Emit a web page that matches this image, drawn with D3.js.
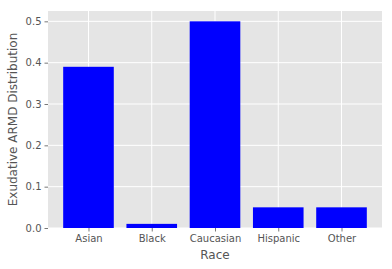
<!DOCTYPE html>
<html>
<head>
<meta charset="utf-8">
<script src="https://cdnjs.cloudflare.com/ajax/libs/d3/7.8.5/d3.min.js"></script>
<style>
  body { margin: 0; background: #fff; }
  text { font-family: "DejaVu Sans", sans-serif; }
</style>
</head>
<body>
<div id="chart"></div>
<script>
// data
const races = ["Asian", "Black", "Caucasian", "Hispanic", "Other"];
const armdShare = [0.39, 0.01, 0.50, 0.05, 0.05];
const yTicks = [0.0, 0.1, 0.2, 0.3, 0.4, 0.5];

const W = 392, H = 269;
const plotLeft = 48, plotRight = 382, plotTop = 11, plotBottom = 228;

const svg = d3.select("#chart").append("svg")
    .attr("width", W)
    .attr("height", H);

// matplotlib style linear x with 5% margin around the bars
const x = d3.scaleLinear().domain([-0.64, 4.64]).range([plotLeft, plotRight]);
const y = d3.scaleLinear().domain([0, 0.525]).range([plotBottom, plotTop]);

svg.append("rect")
    .attr("x", plotLeft).attr("y", plotTop)
    .attr("width", plotRight - plotLeft).attr("height", plotBottom - plotTop)
    .attr("fill", "#e5e5e5");

// grid
svg.selectAll("line.gy").data(yTicks).enter().append("line")
    .attr("x1", plotLeft).attr("x2", plotRight)
    .attr("y1", d => y(d)).attr("y2", d => y(d))
    .attr("stroke", "#fff").attr("stroke-width", 1);
svg.selectAll("line.gx").data(races).enter().append("line")
    .attr("x1", (d, i) => x(i)).attr("x2", (d, i) => x(i))
    .attr("y1", plotTop).attr("y2", plotBottom)
    .attr("stroke", "#fff").attr("stroke-width", 1);

// bars
svg.selectAll("rect.bar").data(armdShare).enter().append("rect")
    .attr("class", "bar")
    .attr("x", (d, i) => x(i - 0.4))
    .attr("width", x(0.8) - x(0))
    .attr("y", d => y(d))
    .attr("height", d => y(0) - y(d))
    .attr("fill", "#0000ff");

// axes
const xAxis = d3.axisBottom(x)
    .tickValues(d3.range(races.length))
    .tickFormat(i => races[i])
    .tickSize(3.5).tickPadding(3);
const gx = svg.append("g").attr("transform", `translate(0,${plotBottom})`).call(xAxis);

const yAxis = d3.axisLeft(y)
    .tickValues(yTicks)
    .tickFormat(d3.format(".1f"))
    .tickSize(3.5).tickPadding(3);
const gy = svg.append("g").attr("transform", `translate(${plotLeft},0)`).call(yAxis);

[gx, gy].forEach(g => {
    g.select(".domain").remove();
    g.selectAll(".tick line").attr("stroke", "#555").attr("stroke-width", 0.8);
    g.selectAll(".tick text")
        .attr("fill", "#555")
        .style("font-size", "10px")
        .style("font-family", "DejaVu Sans, sans-serif");
});

// axis labels
svg.append("text")
    .attr("x", (plotLeft + plotRight) / 2).attr("y", 259)
    .attr("text-anchor", "middle")
    .attr("fill", "#555")
    .style("font-size", "12px")
    .text("Race");

svg.append("text")
    .attr("transform", `translate(17,${(plotTop + plotBottom) / 2}) rotate(-90)`)
    .attr("text-anchor", "middle")
    .attr("fill", "#555")
    .style("font-size", "12px")
    .text("Exudative ARMD Distribution");
</script>
</body>
</html>
